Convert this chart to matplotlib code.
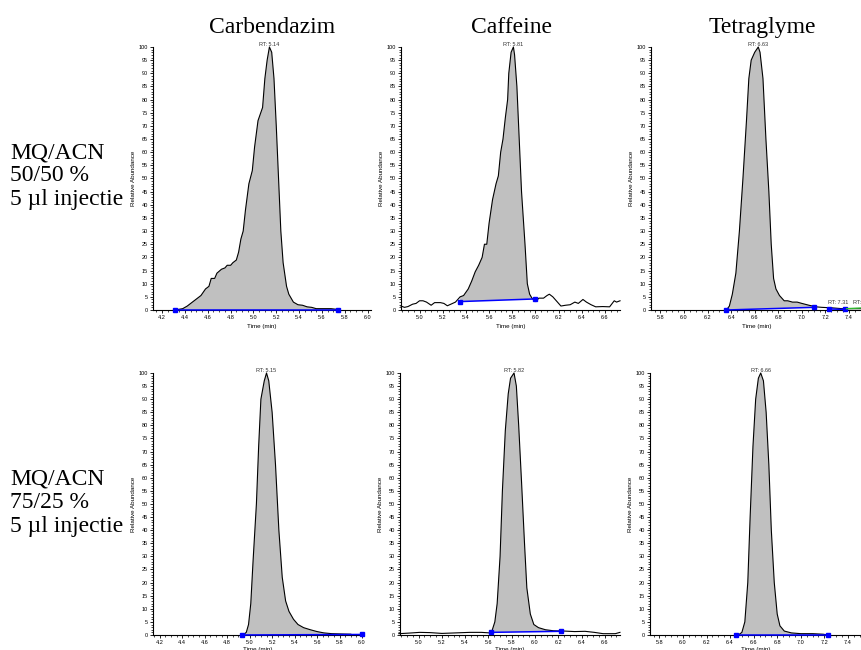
import matplotlib.pyplot as plt
from matplotlib.ticker import MultipleLocator

# --- Carbendazim, MQ/ACN 50/50 ---
carb_a_t = [4.31, 4.38, 4.42, 4.48, 4.54, 4.58, 4.61, 4.63, 4.66, 4.68, 4.72, 4.75,
            4.77, 4.80, 4.82, 4.85, 4.87, 4.89, 4.91, 4.93, 4.96, 4.99, 5.01, 5.04,
            5.08, 5.10, 5.12, 5.14, 5.16, 5.18, 5.20, 5.22, 5.24, 5.26, 5.29, 5.31,
            5.35, 5.39, 5.43, 5.47, 5.51, 5.55, 5.62, 5.68, 5.74]
carb_a_i = [0.0, 0.5, 1.5, 3.5, 5.5, 8, 9, 12, 12, 14, 15.5, 16,
            17, 17, 18, 19, 22, 27, 30, 38, 48, 53, 62, 72,
            77, 88, 95, 100, 98, 88, 70, 50, 30, 18, 9, 6,
            3, 2, 1.8, 1.2, 1.0, 0.5, 0.5, 0.5, 0.2]
carb_a_base_t = [4.31, 5.74]
carb_a_base_i = [0.0, 0.0]

# --- Caffeine, MQ/ACN 50/50 ---
caf_a_t = [4.84, 4.87, 4.90, 4.94, 4.97, 5.00, 5.03, 5.06, 5.10, 5.13, 5.18, 5.21,
           5.24, 5.27, 5.31, 5.35, 5.38, 5.42, 5.45, 5.48, 5.51, 5.54, 5.56, 5.58,
           5.60, 5.63, 5.66, 5.68, 5.70, 5.72, 5.74, 5.76, 5.77, 5.79, 5.81, 5.82,
           5.84, 5.86, 5.88, 5.91, 5.93, 5.95, 5.97, 6.00, 6.03, 6.07, 6.10, 6.12,
           6.15, 6.19, 6.22, 6.26, 6.30, 6.34, 6.37, 6.41, 6.44, 6.48, 6.52, 6.58,
           6.64, 6.68, 6.70, 6.73]
caf_a_i = [1.5, 1.0, 1.3, 2.2, 2.5, 3.5, 3.5, 3.0, 1.8, 2.8, 2.8, 2.5,
           1.6, 2.2, 3.0, 5.0, 5.5, 8, 11, 14.5, 17, 20, 25, 25,
           33, 42, 48, 51, 60, 65, 73, 80, 90, 98, 100, 97,
           85, 65, 45, 25, 10, 6, 4.5, 3.2, 4.5, 4.5, 5.5, 6,
           5, 3, 1.5, 1.8, 2.0, 3.0, 2.5, 4.0, 3.0, 2.0, 1.2, 1.3,
           1.2, 3.5, 3.0, 3.5]
caf_a_base_t = [5.35, 6.00]
caf_a_base_i = [3.2, 4.2]

# --- Tetraglyme, MQ/ACN 50/50 ---
tet_a_t = [6.36, 6.385, 6.41, 6.44, 6.47, 6.50, 6.53, 6.55, 6.57, 6.60, 6.63, 6.645,
           6.67, 6.695, 6.72, 6.74, 6.76, 6.78, 6.81, 6.85, 6.88, 6.92, 6.96, 7.00,
           7.06, 7.12, 7.17, 7.26, 7.34, 7.40, 7.52]
tet_a_i = [0.0, 1.5, 6, 14, 30, 50, 72, 88, 95, 98, 100, 98,
           88, 65, 45, 25, 12, 8, 5.5, 3.5, 3.5, 3.0, 3.0, 2.5,
           1.8, 1.2, 1.0, 0.8, 0.5, 0.5, 0.5]
tet_a_base_t = [6.36, 7.10]
tet_a_base_i = [0.0, 1.0]
tet_a_extra_t = [7.23, 7.37]
tet_a_extra_i = [0.4, 0.2]
tet_a_green_t = [7.38, 7.52]
tet_a_green_i = [0.5, 0.8]
tet_a_minor_rt = [7.31, 7.43]

# --- Carbendazim, MQ/ACN 75/25 ---
carb_b_t = [4.94, 4.97, 4.99, 5.01, 5.03, 5.06, 5.08, 5.10, 5.13, 5.15, 5.17, 5.20,
            5.23, 5.26, 5.29, 5.32, 5.35, 5.39, 5.43, 5.48, 5.54, 5.60, 5.66, 5.73,
            5.81, 5.90]
carb_b_i = [0.0, 1, 4, 12, 28, 50, 72, 90, 97, 100, 97, 85,
            65, 40, 22, 13, 9, 6, 4, 2.8, 2.0, 1.3, 0.8, 0.5,
            0.4, 0.3]
carb_b_base_t = [4.93, 6.00]
carb_b_base_i = [0.0, 0.2]

# --- Caffeine, MQ/ACN 75/25 ---
caf_b_t = [4.83, 4.91, 5.01, 5.10, 5.20, 5.32, 5.44, 5.54, 5.61, 5.63, 5.655, 5.675,
           5.70, 5.72, 5.745, 5.77, 5.79, 5.82, 5.84, 5.86, 5.885, 5.91, 5.93, 5.96,
           5.99, 6.03, 6.09, 6.16, 6.25, 6.34, 6.43, 6.51, 6.585, 6.69, 6.73]
caf_b_i = [0.5, 0.7, 1.0, 0.9, 0.6, 0.8, 1.0, 1.0, 0.8, 1.5, 5, 12,
           30, 55, 78, 92, 98, 100, 95, 80, 58, 35, 18, 8,
           4, 2.8, 2.0, 1.6, 1.5, 1.3, 1.4, 1.0, 0.5, 0.5, 1.0]
caf_b_base_t = [5.62, 6.22]
caf_b_base_i = [1.0, 1.4]

# --- Tetraglyme, MQ/ACN 75/25 ---
tet_b_t = [6.47, 6.50, 6.525, 6.55, 6.57, 6.594, 6.617, 6.64, 6.66, 6.683, 6.706, 6.729,
           6.75, 6.775, 6.80, 6.823, 6.86, 6.92, 7.00, 7.10, 7.19, 7.23]
tet_b_i = [0.0, 1, 5, 20, 45, 72, 90, 98, 100, 97, 85, 65,
           40, 20, 8, 3.5, 1.5, 0.8, 0.5, 0.5, 0.3, 0.0]
tet_b_base_t = [6.45, 7.23]
tet_b_base_i = [0.0, 0.0]

compounds = ['Carbendazim', 'Caffeine', 'Tetraglyme']
conditions = [['MQ/ACN', '50/50 %', '5 µl injectie'],
              ['MQ/ACN', '75/25 %', '5 µl injectie']]
rt_labels = [['5.14', '5.81', '6.63'], ['5.15', '5.82', '6.66']]

sans = 'Liberation Sans'
serif = 'Liberation Serif'
fill_grey = '#c0c0c0'


def chromatogram(ax, t, inten, base_t, base_i, rt, xlim, xpad=3):
    # shaded peak area down to the integration baseline
    seg_t = [x for x in t if base_t[0] <= x <= base_t[1]]
    seg_i = [y for x, y in zip(t, inten) if base_t[0] <= x <= base_t[1]]
    ax.fill(seg_t + base_t[::-1], seg_i + base_i[::-1], color=fill_grey, lw=0, zorder=1)
    ax.plot(t, inten, color='black', lw=0.8, clip_on=False, zorder=3)
    ax.plot(base_t, base_i, color='#0000ff', lw=1.1, marker='s', ms=2.2,
            clip_on=False, zorder=4)
    ax.text(float(rt), 100, 'RT: ' + rt, fontsize=4, family=sans,
            ha='center', va='bottom', color='#333333')

    ax.set_xlim(*xlim)
    ax.set_ylim(0, 100)
    ax.xaxis.set_major_locator(MultipleLocator(0.2))
    ax.xaxis.set_minor_locator(MultipleLocator(0.05))
    ax.yaxis.set_major_locator(MultipleLocator(5))
    ax.yaxis.set_minor_locator(MultipleLocator(1))
    ax.xaxis.set_major_formatter(lambda v, p: f'{v:.1f}')
    ax.tick_params(which='major', length=2.5, width=0.6, labelsize=4, pad=1)
    ax.tick_params(which='minor', length=1.5, width=0.5)
    for lab in ax.get_xticklabels() + ax.get_yticklabels():
        lab.set_family(sans)
    ax.spines['top'].set_visible(False)
    ax.spines['right'].set_visible(False)
    for s in ('left', 'bottom'):
        ax.spines[s].set_linewidth(0.8)
    ax.set_ylabel('Relative Abundance', fontsize=4.5, family=sans, labelpad=2)
    ax.set_xlabel('Time (min)', fontsize=4.5, family=sans, labelpad=xpad)


fig = plt.figure(figsize=(8.62, 6.50), dpi=100)

ax1 = fig.add_axes([0.1775, 0.5231, 0.2529, 0.4046])
chromatogram(ax1, carb_a_t, carb_a_i, carb_a_base_t, carb_a_base_i,
             rt_labels[0][0], (4.12, 6.03))

ax2 = fig.add_axes([0.4652, 0.5231, 0.2541, 0.4046])
chromatogram(ax2, caf_a_t, caf_a_i, caf_a_base_t, caf_a_base_i,
             rt_labels[0][1], (4.84, 6.73))

ax3 = fig.add_axes([0.7552, 0.5231, 0.2448, 0.4046])
chromatogram(ax3, tet_a_t, tet_a_i, tet_a_base_t, tet_a_base_i,
             rt_labels[0][2], (5.72, 7.51))
ax3.plot(tet_a_extra_t, tet_a_extra_i, color='#0000ff', lw=1.1, marker='s', ms=2.2,
         clip_on=False, zorder=4)
ax3.plot(tet_a_green_t, tet_a_green_i, color='#33bb33', lw=1.0, clip_on=False, zorder=4)
ax3.text(tet_a_minor_rt[0], 2.0, f'RT: {tet_a_minor_rt[0]:.2f}', fontsize=4,
         family=sans, ha='center', va='bottom', color='#333333')
ax3.text(tet_a_minor_rt[1], 2.0, f'RT: {tet_a_minor_rt[1]:.2f}', fontsize=4,
         family=sans, ha='left', va='bottom', color='#333333')

ax4 = fig.add_axes([0.1775, 0.0231, 0.2425, 0.4031])
chromatogram(ax4, carb_b_t, carb_b_i, carb_b_base_t, carb_b_base_i,
             rt_labels[1][0], (4.14, 6.00), xpad=1.5)

ax5 = fig.add_axes([0.4640, 0.0231, 0.2552, 0.4031])
chromatogram(ax5, caf_b_t, caf_b_i, caf_b_base_t, caf_b_base_i,
             rt_labels[1][1], (4.84, 6.73), xpad=1.5)

ax6 = fig.add_axes([0.7541, 0.0231, 0.2459, 0.4031])
chromatogram(ax6, tet_b_t, tet_b_i, tet_b_base_t, tet_b_base_i,
             rt_labels[1][2], (5.72, 7.52), xpad=1.5)

# column headers
for name, xc in zip(compounds, [272, 512, 762]):
    fig.text(xc / 862, 1 - 33 / 650, name, family=serif, fontsize=17,
             ha='center', va='baseline')

# row labels
for row, base_y in zip(conditions, [158, 485]):
    for k, line in enumerate(row):
        fig.text(10 / 862, 1 - (base_y + 23.5 * k) / 650, line, family=serif,
                 fontsize=17, ha='left', va='baseline')

fig.savefig('out.png', dpi=100)
